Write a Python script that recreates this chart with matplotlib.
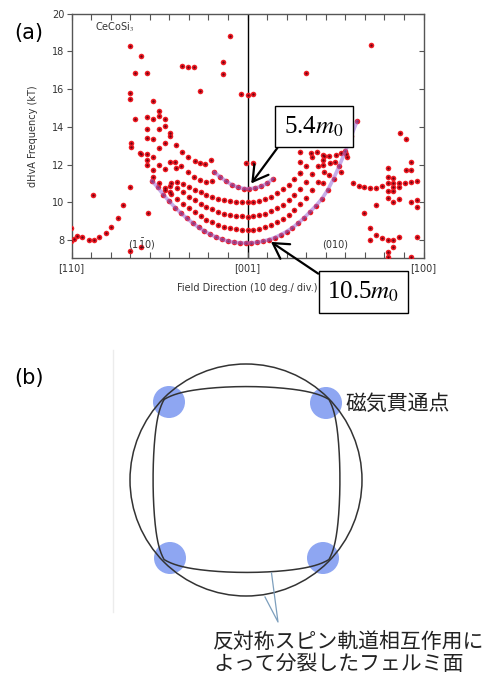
import numpy as np
import matplotlib.pyplot as plt
from matplotlib.patches import Circle

plt.rcParams['font.family'] = ['DejaVu Sans']
plt.rcParams['mathtext.fontset'] = 'stix'

# (a) dHvA frequency vs field angle; angle in deg, 0 = [001], -90 = [110], +90 = [100]
# outer branch (10.5 m0), fitted line drawn through it
outer_deg = [-49, -46, -43, -40, -37, -34, -31, -28, -25, -22, -19, -16, -13, -10, -7, -4, -1, 2, 5, 8,
             11, 14, 17, 20, 23, 26, 29, 32, 35, 38, 41, 44, 47, 50, 53, 56]
outer_kt = [11.15, 10.8, 10.4, 10.05, 9.72, 9.42, 9.15, 8.9, 8.67, 8.47, 8.3, 8.15, 8.03, 7.94, 7.88, 7.85,
            7.84, 7.85, 7.88, 7.94, 8.02, 8.13, 8.28, 8.45, 8.65, 8.9, 9.18, 9.5, 9.82, 10.18, 10.65, 11.25,
            11.95, 12.7, 13.5, 14.3]
# inner branch (5.4 m0)
inner_deg = [-17, -14, -11, -8, -5, -2, 1, 4, 7, 10, 13]
inner_kt = [11.6, 11.35, 11.12, 10.93, 10.8, 10.73, 10.72, 10.76, 10.85, 11.0, 11.25]
# nested branches between them
u2_deg = [-42, -39, -36, -33, -30, -27, -24, -21, -18, -15, -12, -9, -6, -3, 0, 3, 6, 9, 12, 15, 18, 21,
          24, 27, 30, 33, 36, 39, 42, 45]
u2_kt = [10.75, 10.45, 10.18, 9.92, 9.68, 9.46, 9.26, 9.08, 8.93, 8.8, 8.7, 8.62, 8.57, 8.54, 8.53, 8.55,
         8.6, 8.68, 8.8, 8.95, 9.13, 9.35, 9.6, 9.9, 10.25, 10.65, 11.1, 11.6, 12.1, 12.5]
u3_deg = [-39, -36, -33, -30, -27, -24, -21, -18, -15, -12, -9, -6, -3, 0, 3, 6, 9, 12, 15, 18, 21, 24,
          27, 30, 33, 36, 39]
u3_kt = [11.0, 10.75, 10.52, 10.3, 10.1, 9.92, 9.76, 9.62, 9.5, 9.4, 9.33, 9.28, 9.25, 9.24, 9.26, 9.31,
         9.4, 9.52, 9.68, 9.88, 10.12, 10.4, 10.72, 11.1, 11.5, 11.95, 12.45]
u4_deg = [-36, -33, -30, -27, -24, -21, -18, -15, -12, -9, -6, -3, 0, 3, 6, 9, 12, 15, 18, 21, 24, 27, 30, 33]
u4_kt = [11.1, 10.95, 10.8, 10.65, 10.52, 10.4, 10.3, 10.2, 10.13, 10.07, 10.03, 10.01, 10.0, 10.02,
         10.08, 10.17, 10.3, 10.47, 10.68, 10.93, 11.22, 11.55, 11.95, 12.4]
# upper-left arcs ending near -18 deg
arc_a_deg = [-36.5, -33.6, -30.2, -27.1, -24.5, -21.5, -18.6]
arc_a_kt = [13.04, 12.65, 12.42, 12.19, 12.07, 12.03, 12.24]
arc_b_deg = [-37.3, -34.0, -30.5, -27.4, -24.2, -21.1, -18.3]
arc_b_kt = [12.15, 11.9, 11.6, 11.36, 11.18, 11.1, 11.15]
# fan of points towards [110]
fan_deg = [-45.3, -45.3, -51.3, -48.4, -42.4, -57.3, -51.3, -45.3, -42.4, -39.4, -39.4, -51.3, -48.4,
           -42.4, -59.5, -59.5, -45.3, -54.3, -51.3, -51.3, -51.3, -48.4, -48.4, -48.4, -45.3, -42.4,
           -39.5, -36.5, -45.3, -42.4, -39.5, -39.5, -55.2]
fan_kt = [14.85, 14.57, 14.5, 14.4, 14.4, 14.42, 13.9, 13.87, 14.06, 13.66, 13.5, 13.43, 13.36, 13.13,
          13.13, 12.95, 12.9, 12.56, 12.56, 12.24, 11.98, 12.39, 11.71, 11.36, 11.98, 11.77, 12.15, 11.84,
          11.0, 10.65, 10.88, 10.53, 12.6]
# low branch near [110]
low_deg = [-90.2, -90.2, -88.5, -87.3, -84.5, -81.1, -78.6, -75.7, -72.6, -69.7, -66.3, -63.7, -60.3,
           -79.0, -51.0, -60.3, -54.3]
low_kt = [8.65, 7.96, 8.04, 8.21, 8.14, 8.0, 8.0, 8.14, 8.39, 8.7, 9.18, 9.86, 10.83, 10.39, 9.41, 7.4, 7.65]
# isolated high-frequency points
high_deg = [-60.3, -54.3, -57.3, -51.3, -60.3, -60.3, -48.4, -33.4, -30.3, -27.4, -24.4, -12.3, -12.3,
            -9.2, -3.2, 0.0, 2.8, 30.0, 62.9, 77.9, 80.8, -1.0, 2.7]
high_kt = [18.3, 17.76, 16.84, 16.84, 15.78, 15.5, 15.4, 17.25, 17.16, 17.2, 15.92, 17.46, 16.8, 18.8,
           15.73, 15.7, 15.73, 16.84, 18.34, 13.7, 13.36, 12.07, 12.07]
# points around the top of the right-hand branches
top_r_deg = [32.6, 35.6, 38.5, 41.6, 47.9, 50.5, 50.8, 38.5, 38.5, 44.5, 47.9, 38.5, 41.9, 26.6, 26.6, 26.6]
top_r_kt = [12.6, 12.68, 12.5, 12.46, 12.63, 12.56, 12.42, 12.24, 11.98, 12.15, 11.62, 11.0, 11.45,
            12.68, 12.15, 11.54]
# points between (010) and [100]
right_deg = [53.9, 56.9, 59.8, 62.7, 65.7, 68.8, 71.6, 74.6, 77.6, 80.7, 83.6, 86.5,
             71.7, 71.7, 74.6, 74.6, 71.7, 74.6, 77.7, 71.7, 74.6, 77.7, 80.8, 83.7, 83.7, 83.7, 86.6, 86.6,
             65.8, 59.8, 62.7, 62.7, 65.8, 68.9, 71.7, 74.6, 77.7, 74.6, 71.7, 71.7, 83.7, 86.6]
right_kt = [11.0, 10.88, 10.83, 10.77, 10.77, 10.88, 11.0, 11.04, 11.0, 11.04, 11.08, 11.13,
            11.8, 11.36, 11.27, 10.83, 10.62, 10.62, 10.83, 10.21, 10.03, 10.16, 11.71, 12.15, 11.71, 10.03,
            10.12, 9.77, 9.86, 9.42, 8.62, 8.0, 8.27, 8.09, 8.0, 8.0, 8.14, 7.64, 7.38, 7.12, 7.08, 8.18]

all_deg = (outer_deg + inner_deg + u2_deg + u3_deg + u4_deg + arc_a_deg + arc_b_deg + fan_deg + low_deg
           + high_deg + top_r_deg + right_deg)
all_kt = (outer_kt + inner_kt + u2_kt + u3_kt + u4_kt + arc_a_kt + arc_b_kt + fan_kt + low_kt
          + high_kt + top_r_kt + right_kt)

tick_deg = list(range(-90, 91, 10))
tick_text = ['[110]'] + [''] * 8 + ['[001]'] + [''] * 8 + ['[100]']

# (b) Fermi surface sketch, in pixel units of the figure
circ_c, circ_r = (246, 480), 116
sq_c = (246.5, 479.5)
sq_hx, sq_hy = 87, 84.5      # corner half extents
sq_bx, sq_by = 6.5, 8.5      # bulge of the sides
sq_rc = 118                  # corners are rounded off near this radius
blobs = [(169, 402), (326, 403), (170, 558), (323, 558)]

fig = plt.figure(figsize=(5.0, 6.82), dpi=100)
ax = fig.add_axes([71.5 / 500, 1 - 258 / 682, 352 / 500, (258 - 13.8) / 682])
ax.set_xlim(-90, 90)
ax.set_ylim(7.045, 20)

ax.axvline(0, color='black', lw=1.0, zorder=1)
ax.scatter(all_deg, all_kt, s=16, color='#ee1c24', lw=0, zorder=3)
ax.scatter(all_deg, all_kt, s=3, color='#6e0010', lw=0, zorder=4)
ax.plot(outer_deg, outer_kt, color='#9a6ad8', lw=2.6, alpha=0.55, zorder=5, solid_capstyle='round')
ax.plot(inner_deg, inner_kt, color='#9a6ad8', lw=2.6, alpha=0.55, zorder=5, solid_capstyle='round')

ax.set_xticks(tick_deg)
ax.set_xticklabels(tick_text, fontsize=7, color='#333333')
ax.set_yticks(range(8, 21, 2))
ax.set_yticklabels([str(v) for v in range(8, 21, 2)], fontsize=7, color='#333333')
ax.tick_params(axis='x', direction='in', length=4, width=0.8, color='#555555', pad=4)
ax.tick_params(axis='y', direction='out', length=3.5, width=0.8, color='#555555', pad=1.5)
for s in ax.spines.values():
    s.set_color('#555555')
    s.set_linewidth(1.0)
top = ax.secondary_xaxis('top')
top.set_xticks(tick_deg)
top.tick_params(direction='in', length=4, width=0.8, color='#555555', labeltop=False)
top.spines['top'].set_visible(False)
right = ax.secondary_yaxis('right')
right.set_yticks(range(8, 21, 2))
right.tick_params(direction='in', length=3.5, width=0.8, color='#555555', labelright=False)
right.spines['right'].set_visible(False)

ax.text(0.068, 0.946, r'CeCoSi$_3$', transform=ax.transAxes, fontsize=7, color='#333333', va='center')
ax.text(-54, 7.75, r'(1$\mathregular{\bar{1}}$0)', fontsize=7, color='#333333', ha='center', va='center')
ax.text(45, 7.75, '(010)', fontsize=7, color='#333333', ha='center', va='center')

# overlay in figure pixels
ov = fig.add_axes([0, 0, 1, 1])
ov.set_xlim(0, 500)
ov.set_ylim(682, 0)
ov.axis('off')
ov.patch.set_alpha(0)

ov.text(29, 33, '(a)', fontsize=15, ha='center', va='center')
ov.text(29, 378, '(b)', fontsize=15, ha='center', va='center')
ov.text(33, 136, 'dHvA Frequency (kT)', rotation=90, fontsize=7, color='#333333', ha='center', va='center')
ov.text(177, 288, 'Field Direction (10 deg./ div.)', fontsize=7, color='#333333', ha='left', va='center')

box = dict(boxstyle='square,pad=0.35', fc='white', ec='black', lw=1.0)
ov.annotate(r'5.4$m_0$', xy=(1.9, 11.0), xycoords=ax.transData, xytext=(314, 126.5),
            textcoords=ov.transData, ha='center', va='center', fontsize=18, family='Liberation Serif',
            bbox=box, zorder=10,
            arrowprops=dict(arrowstyle='->,head_length=0.6,head_width=0.35', lw=1.6, color='black',
                            relpos=(0, 0), shrinkA=0, shrinkB=0))
ov.annotate(r'10.5$m_0$', xy=(12, 7.9), xycoords=ax.transData, xytext=(363.5, 292),
            textcoords=ov.transData, ha='center', va='center', fontsize=18, family='Liberation Serif',
            bbox=box, zorder=10,
            arrowprops=dict(arrowstyle='->,head_length=0.6,head_width=0.35', lw=1.6, color='black',
                            relpos=(0, 1), shrinkA=0, shrinkB=0))

# panel (b)
ov.plot([113, 113], [350, 612], color='#ececec', lw=1)
for bx, by in blobs:
    ov.add_patch(Circle((bx, by), 16, color='#8ea6f2', lw=0, zorder=2))
ov.add_patch(Circle(circ_c, circ_r, fill=False, ec='#333333', lw=1.1, zorder=3))
u = np.linspace(-1, 1, 120)
dx = np.concatenate([sq_hx * u, sq_hx + sq_bx * (1 - u ** 2), -sq_hx * u, -sq_hx - sq_bx * (1 - u ** 2)])
dy = np.concatenate([-sq_hy - sq_by * (1 - u ** 2), sq_hy * u, sq_hy + sq_by * (1 - u ** 2), -sq_hy * u])
r = np.hypot(dx, dy)
r_soft = (r ** -18 + sq_rc ** -18) ** (-1 / 18)
sx = sq_c[0] + dx * r_soft / r
sy = sq_c[1] + dy * r_soft / r
ov.plot(np.append(sx, sx[0]), np.append(sy, sy[0]), color='#333333', lw=1.1, zorder=3)
ov.plot([271.5, 278, 265], [573, 622, 597], color='#7d9fbd', lw=0.9, zorder=3)

cjk = ['Noto Sans CJK JP', 'DejaVu Sans']
ov.text(345, 404, '磁気貫通点', family=cjk, fontsize=15, color='#222222', ha='left', va='center')
ov.text(213, 642, '反対称スピン軌道相互作用に', family=cjk, fontsize=15, color='#222222',
        ha='left', va='center')
ov.text(213, 664, 'よって分裂したフェルミ面', family=cjk, fontsize=15, color='#222222',
        ha='left', va='center')

fig.savefig('out.png', dpi=100)
